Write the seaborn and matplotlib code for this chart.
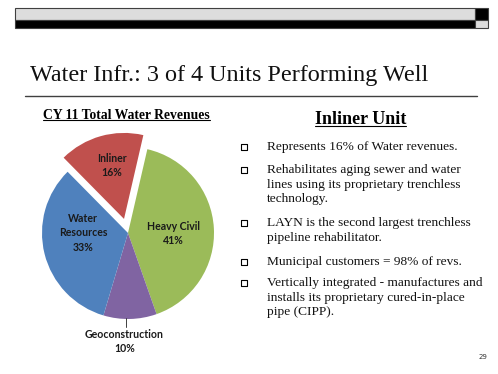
import matplotlib
matplotlib.use("Agg")
import matplotlib.pyplot as plt
from matplotlib.patches import Rectangle
import seaborn as sns

# chart data
segments = ["Heavy Civil", "Geoconstruction", "Water\nResources", "Inliner"]
shares = [41, 10, 33, 16]
seg_colors = ["#9BBB59", "#8064A2", "#4F81BD", "#C0504D"]
explode = [0, 0, 0, 0.17]

slide_title = "Water Infr.: 3 of 4 Units Performing Well"
chart_title = "CY 11 Total Water Revenues"
side_title = "Inliner Unit"
bullets = [
    ["Represents 16% of Water revenues."],
    ["Rehabilitates aging sewer and water",
     "lines using its proprietary trenchless",
     "technology."],
    ["LAYN is the second largest trenchless",
     "pipeline rehabilitator."],
    ["Municipal customers = 98% of revs."],
    ["Vertically integrated - manufactures and",
     "installs its proprietary cured-in-place",
     "pipe (CIPP)."],
]
page_no = "29"

sns.set_theme(style="white")
serif = "Liberation Serif"

W, H = 498, 374
fig = plt.figure(figsize=(W / 100, H / 100), dpi=100)
bg = fig.add_axes([0, 0, 1, 1])
bg.set_xlim(0, W)
bg.set_ylim(H, 0)
bg.axis("off")

# header bar
bg.add_patch(Rectangle((15, 8), 460, 12, facecolor="#DDDDDD", edgecolor="#404040", lw=0.8))
bg.add_patch(Rectangle((15, 20), 460, 8, facecolor="black", edgecolor="#404040", lw=0.8))
bg.add_patch(Rectangle((475, 8), 13, 12, facecolor="black", edgecolor="#404040", lw=0.8))
bg.add_patch(Rectangle((475, 20), 13, 8, facecolor="#DDDDDD", edgecolor="#404040", lw=0.8))

# slide title + rule
bg.text(30, 75, slide_title, fontsize=17.4, family=serif, color="#111111", va="center", ha="left")
bg.plot([25, 477], [95.5, 95.5], color="#404040", lw=1)


def underlined(x, y, s, size):
    t = bg.text(x, y, s, fontsize=size, family=serif, weight="bold", color="black",
                ha="center", va="center")
    fig.canvas.draw()
    bb = t.get_window_extent().transformed(bg.transData.inverted())
    x0, x1 = sorted([bb.x0, bb.x1])
    yb = max(bb.y0, bb.y1)
    bg.plot([x0, x1], [yb - 1.5, yb - 1.5], color="black", lw=0.8)


underlined(126.5, 115, chart_title, 9.8)
underlined(360.5, 119, side_title, 13)

# bullets
first_line_y = [147, 170, 223, 262, 283]
for lines, y0 in zip(bullets, first_line_y):
    bg.scatter([244], [y0], marker="s", s=18, facecolor="white", edgecolor="black", lw=0.8, zorder=3)
    for k, line in enumerate(lines):
        bg.text(267, y0 + k * 14.5, line, fontsize=9.6, family=serif, color="#111111",
                ha="left", va="center")

bg.text(483, 357, page_no, fontsize=5, color="#333333", ha="center", va="center")

# pie
cx, cy, r = 128, 233, 86
pie_ax = fig.add_axes([(cx - r) / W, (H - cy - r) / H, 2 * r / W, 2 * r / H])
wedges, _ = pie_ax.pie(shares, colors=seg_colors, explode=explode, startangle=77,
                       counterclock=False, wedgeprops=dict(linewidth=0))
pie_ax.set_xlim(-1, 1)
pie_ax.set_ylim(-1, 1)
for w in wedges:
    w.set_clip_on(False)

label_pos = [(0.53, -0.01), (-0.04, -1.26), (-0.52, 0.0), (-0.19, 0.785)]
for name, pct, (lx, ly) in zip(segments, shares, label_pos):
    pie_ax.text(lx, ly, f"{name}\n{pct}%", fontsize=7.6, family="Lato", weight="bold",
                color="#1a1a1a", ha="center", va="center", linespacing=1.35, clip_on=False)
pie_ax.plot([-0.023, -0.023], [-0.99, -1.09], color="#404040", lw=0.7, clip_on=False)

fig.savefig("out.png", dpi=100)
